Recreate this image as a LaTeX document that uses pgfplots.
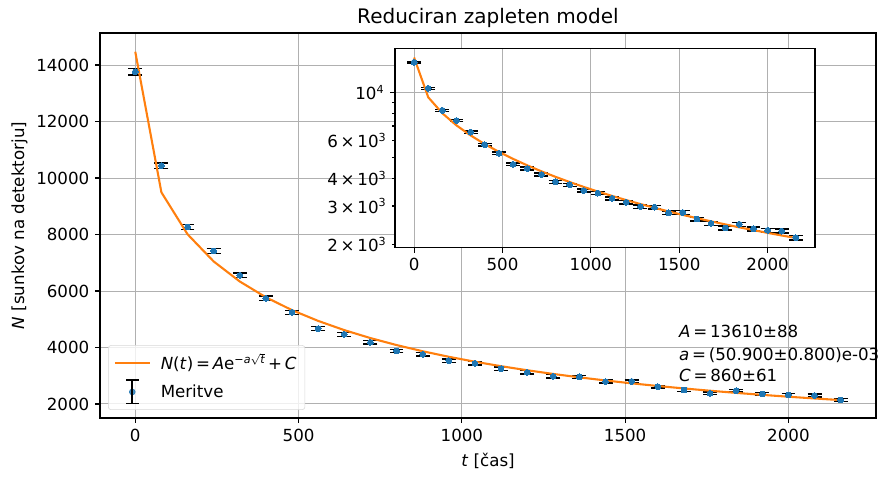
\documentclass[border=0pt]{standalone}
\usepackage{fontspec}
\setmainfont{DejaVu Sans}
\usepackage{pgfplots}
\pgfplotsset{compat=1.18}
\usepackage{pgfplotstable}
\definecolor{mblue}{HTML}{1F77B4}
\definecolor{morange}{HTML}{FF7F0E}
\definecolor{mgrid}{HTML}{B0B0B0}
\definecolor{mlegend}{HTML}{D8D8D8}

\pgfplotstableread{
t N e
0 13763 117
80 10435 102
160 8265 91
240 7416 86
320 6556 81
400 5740 76
480 5245 72
560 4667 68
640 4466 67
720 4183 65
800 3876 62
880 3759 61
960 3533 59
1040 3440 59
1120 3250 57
1200 3121 56
1280 2980 55
1360 2960 54
1440 2790 53
1520 2800 53
1600 2613 51
1680 2496 50
1760 2378 49
1840 2472 50
1920 2354 49
2000 2319 48
2080 2300 48
2160 2142 46
}\meas

\pgfplotstableread{
t F
0 14470
80 9493
160 8009
240 7046
320 6336
400 5777
480 5322
560 4941
640 4615
720 4333
800 4086
880 3867
960 3671
1040 3496
1120 3338
1200 3194
1280 3063
1360 2943
1440 2832
1520 2731
1600 2637
1680 2550
1760 2469
1840 2393
1920 2323
2000 2257
2080 2195
2160 2138
}\fit

\newcommand{\sci}[2]{#1\kern2pt×\kern2pt10\textsuperscript{#2}}

\pgfplotsset{
  mystyle/.style={
    scale only axis,
    tick align=outside,
    xtick pos=bottom, ytick pos=left,
    major tick length=3.5pt,
    minor tick length=2pt,
    every tick/.style={black, line width=0.8pt},
    axis line style={line width=0.8pt},
    grid style={mgrid, line width=0.7pt},
    /pgf/number format/assume math mode=true,
    /pgf/number format/1000 sep={},
    scaled ticks=false,
    xmin=-108, xmax=2268,
    xtick={0,500,1000,1500,2000},
    tick label style={font=\fontsize{12}{14}\selectfont},
  },
  marksplot/.style={forget plot, only marks, mark=*, mark size=2.1pt,
    mark options={draw=mblue, fill=mblue, line width=0pt}},
  barsplot/.style={forget plot, draw=none, mark=none,
    error bars/.cd, y dir=both, y explicit,
    error bar style={draw=black, line width=1.5pt},
    error mark options={draw=black, rotate=90, mark size=5pt, line width=1pt}},
}

\begin{document}
\fontsize{12}{14.4}\selectfont
\begin{tikzpicture}
\begin{axis}[mystyle,
  name=main,
  width=558.7pt, height=277.2pt,
  ymin=1504, ymax=15133,
  ytick={2000,4000,6000,8000,10000,12000,14000},
  grid=major,
  title={Reduciran zapleten model},
  title style={font=\fontsize{14.4}{17}\selectfont, yshift=-6.5pt},
  xlabel={\textit{t} [čas]},
  ylabel={\textit{N} [sunkov na detektorju]},
  ylabel style={yshift=-2pt},
  label style={font=\fontsize{12}{14}\selectfont},
  legend cell align=left,
  legend style={at={(0,0)}, anchor=south west, xshift=5.8pt, yshift=5.8pt,
    draw=mlegend, rounded corners=2pt, fill=white, fill opacity=0.8,
    text opacity=1, draw opacity=1, inner xsep=4pt, inner ysep=3.5pt,
    row sep=3pt, font=\fontsize{12}{14}\selectfont},
]
\addplot[marksplot] table[x=t, y=N] {\meas};
\addplot[barsplot] table[x=t, y=N, y error=e] {\meas};
\addplot[morange, line width=1.5pt, mark=none,
  legend image code/.code={\path[draw=none] (0pt,0pt) -- (31pt,0pt);
    \draw[morange, line width=1.5pt] (0pt,0pt) -- (25pt,0pt);}]
  table[x=t, y=F] {\fit};
\addlegendentry{\textit{N}(\textit{t})\kern2pt=\kern2pt\textit{A}e\textsuperscript{−\textit{a}$\sqrt{\textit{t}}$}\kern2pt+\kern2pt\textit{C}}
\addlegendimage{legend image code/.code={
  \path[draw=none] (0pt,0pt) -- (31pt,0pt);
  \fill[mblue] (12.5pt,0pt) circle (2.1pt);
  \draw[black, line width=1.5pt] (12.5pt,-8.5pt) -- (12.5pt,8.5pt);
  \draw[black, line width=1pt] (8pt,-8.5pt) -- (17pt,-8.5pt);
  \draw[black, line width=1pt] (8pt,8.5pt) -- (17pt,8.5pt);
}}
\addlegendentry{Meritve}
\end{axis}

\node[anchor=base west, font=\fontsize{12}{14}\selectfont] at ([shift={(412.8pt,58.1pt)}]main.south west) {\textit{A}\kern2pt=\kern2pt13610±88};
\node[anchor=base west, font=\fontsize{12}{14}\selectfont] at ([shift={(412.8pt,41.7pt)}]main.south west) {\textit{a}\kern2pt=\kern2pt(50.900±0.800)e-03};
\node[anchor=base west, font=\fontsize{12}{14}\selectfont] at ([shift={(412.8pt,26.1pt)}]main.south west) {\textit{C}\kern2pt=\kern2pt860±61};

\begin{axis}[mystyle,
  at={(main.south west)}, anchor=south west,
  xshift=212.4pt, yshift=122.6pt,
  width=302.4pt, height=143.5pt,
  axis background/.style={fill=white},
  ymode=log,
  ymin=1929, ymax=15930,
  ytick={10000}, yticklabels={10\textsuperscript{4}},
  extra y ticks={2000,3000,4000,6000},
  extra y tick labels={\sci{2}{3},\sci{3}{3},\sci{4}{3},\sci{6}{3}},
  extra y tick style={grid=none, major tick length=2pt, ytick pos=left},
  minor ytick={5000,7000,8000,9000},
  xmajorgrids, ymajorgrids,
]
\addplot[marksplot] table[x=t, y=N] {\meas};
\addplot[barsplot] table[x=t, y=N, y error=e] {\meas};
\addplot[morange, line width=1.5pt, mark=none] table[x=t, y=F] {\fit};
\end{axis}

\pgfresetboundingbox
\path[use as bounding box] ([shift={(-72pt,-46.08pt)}]main.south west) rectangle ([shift={(565.2pt,300.96pt)}]main.south west);
\end{tikzpicture}
\end{document}
